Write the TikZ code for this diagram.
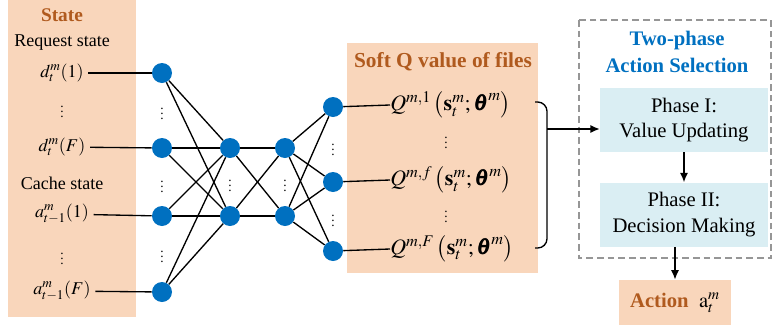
\documentclass[tikz,border=0pt]{standalone}
\usepackage{amsmath}
\usepackage{mathptmx}
\usepackage{bm}
\usepackage[no-math]{fontspec}
\setmainfont{Liberation Serif}
\usetikzlibrary{
  arrows.meta,
  positioning
}
\definecolor{peach}{RGB}{249,214,187}
\definecolor{rust}{RGB}{176,90,30}
\definecolor{nodeblue}{RGB}{0,112,192}
\definecolor{paleblue}{RGB}{218,238,243}
\definecolor{dashgray}{RGB}{150,150,150}

\begin{document}
\begin{tikzpicture}[x=0.75pt, y=-0.75pt]
  \tikzset{
    neuron/.style={circle, fill=nodeblue, minimum size=15pt, inner sep=0pt},
    link/.style={line width=1pt},
    dotsym/.style={inner sep=0pt, font=\fontsize{10}{10}\selectfont},
    small/.style={font=\fontsize{13.5}{16}\selectfont},
    title/.style={font=\fontsize{15.5}{20}\selectfont\bfseries, text=rust},
    qval/.style={anchor=west, inner sep=0pt, font=\fontsize{16.5}{19}\selectfont},
    phasebox/.style={fill=paleblue, minimum width=126pt, minimum height=48pt,
      align=center, font=\fontsize{15.5}{19}\selectfont},
    arr/.style={line width=1pt, -{Latex[length=7pt,width=6pt]}}
  }
  \useasboundingbox (0,0) rectangle (772,329);

  % Background panels
  \fill[peach] (8,0) rectangle (136,317);
  \fill[peach] (347,43) rectangle (538,273);
  \draw[dashgray, line width=0.8pt, dash pattern=on 5pt off 3pt]
    (579,20) rectangle (771,258);

  % State column
  \node[title, font=\fontsize{14.5}{17}\selectfont\bfseries] (st) at (62,15) {State};
  \node[small] (rq) at (62,43) {Request state};
  \node[small] (d1) at (62,73) {$d_t^m(1)$};
  \node[dotsym] (dv) at (62,108) {$\vdots$};
  \node[small] (dF) at (62,147) {$d_t^m(F)$};
  \node[small] (cs) at (62,183) {Cache state};
  \node[small] (c1) at (62,214) {$a_{t-1}^m(1)$};
  \node[dotsym] (cv) at (62,255) {$\vdots$};
  \node[small] (cF) at (62,291) {$a_{t-1}^m(F)$};

  % Network layers
  \foreach \k/\y in {1/73, 2/148, 3/216, 4/292}
    \node[neuron] (i\k) at (162,\y) {};
  \foreach \k/\y in {1/148, 2/216} {
    \node[neuron] (a\k) at (230,\y) {};
    \node[neuron] (b\k) at (285,\y) {};
  }
  \foreach \k/\y in {1/107, 2/182, 3/251}
    \node[neuron] (o\k) at (333,\y) {};

  % Dots between neurons
  \foreach \n/\x/\y in {p1/162/110, p2/162/183, p3/162/253,
                        p4/230/182, p5/285/182,
                        p6/333/146, p7/333/217}
    \node[dotsym] (\n) at (\x,\y) {$\vdots$};

  % Connections
  \foreach \i in {1,...,4}
    \foreach \j in {1,2}
      \draw[link] (i\i) -- (a\j);
  \foreach \i in {1,2}
    \foreach \j in {1,2}
      \draw[link] (a\i) -- (b\j);
  \foreach \i in {1,2}
    \foreach \j in {1,2,3}
      \draw[link] (b\i) -- (o\j);
  \draw[link] (d1) -- (i1);
  \draw[link] (dF) -- (i2);
  \draw[link] (c1) -- (i3);
  \draw[link] (cF) -- (i4);

  % Soft Q values
  \node[title, font=\fontsize{16}{20}\selectfont\bfseries] (sq) at (443,62)
    {Soft Q value of files};
  \node[qval] (q1) at (390,105)
    {$Q^{m,1}\,\bigl(\mathbf{s}_t^m;\bm{\theta}^m\bigr)$};
  \node[dotsym] (qv1) at (446,139) {$\vdots$};
  \node[qval] (qf) at (390,180)
    {$Q^{m,f}\,\bigl(\mathbf{s}_t^m;\bm{\theta}^m\bigr)$};
  \node[dotsym] (qv2) at (446,213) {$\vdots$};
  \node[qval] (qF) at (390,249)
    {$Q^{m,F}\,\bigl(\mathbf{s}_t^m;\bm{\theta}^m\bigr)$};
  \draw[link] (o1) -- (q1.west);
  \draw[link] (o2) -- (qf.west);
  \draw[link] (o3) -- (qF.west);

  % Bracket
  \coordinate (bt) at (535,102);
  \coordinate (bb) at (535,248);
  \coordinate (bm) at (547,129);
  \draw[link, rounded corners=7pt] (bt) -- (547,102) -- (547,248) -- (bb);

  % Two-phase action selection
  \node[font=\fontsize{15.5}{20}\selectfont\bfseries, text=nodeblue, align=center]
    (ts) at (677,52) {Two-phase\\Action Selection};
  \node[phasebox] (ph1) at (684,120) {Phase I:\\Value Updating};
  \node[phasebox, below=22.5pt of ph1] (ph2) {Phase II:\\Decision Making};
  \node[fill=peach, minimum width=84pt, minimum height=34pt,
        font=\fontsize{15.5}{19}\selectfont] (act) at (675,302.5)
    {{\bfseries\color{rust}Action}~~$\mathrm{a}_t^m$};

  \draw[arr] (bm) -- (bm -| ph1.west);
  \draw[arr] (ph1) -- (ph2);
  \draw[arr] (ph2.south -| act.north) -- (act.north);
\end{tikzpicture}
\end{document}
